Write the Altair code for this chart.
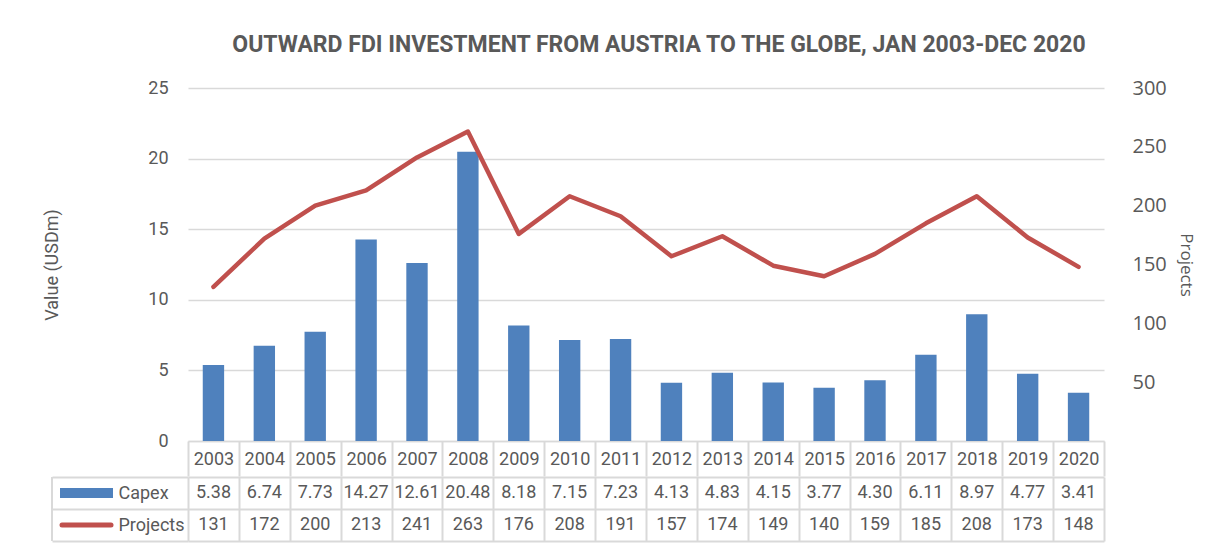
import altair as alt
import pandas as pd

years = [str(y) for y in range(2003, 2021)]
capex = [5.38, 6.74, 7.73, 14.27, 12.61, 20.48, 8.18, 7.15, 7.23, 4.13,
         4.83, 4.15, 3.77, 4.30, 6.11, 8.97, 4.77, 3.41]
projects = [131, 172, 200, 213, 241, 263, 176, 208, 191, 157,
            174, 149, 140, 159, 185, 208, 173, 148]
row_names = ["Capex", "Projects"]
left_ticks = [0, 5, 10, 15, 20, 25]
right_ticks = [0, 50, 100, 150, 200, 250, 300]
title_text = "OUTWARD FDI INVESTMENT FROM AUSTRIA TO THE GLOBE, JAN 2003-DEC 2020"

BLUE = "#4F81BD"
RED = "#C0504D"
GRID = "#D9D9D9"
TEXT = "#595959"
NARROW = "Roboto"
ROUND = "Open Sans"
W = 916
H = 353
TH = 64

df = pd.DataFrame({"year": years, "capex": capex, "projects": projects})

band = alt.Scale(paddingInner=0, paddingOuter=0)

x_main = alt.X(
    "year:N", sort=years, scale=band,
    axis=alt.Axis(title=None, labelAngle=0, domainColor=GRID, domainWidth=1.5,
                  tickColor=GRID, tickWidth=2, tickSize=35, tickBand="extent",
                  labelPadding=-17, labelBaseline="middle", labelFont=NARROW,
                  labelFontSize=18, labelColor=TEXT, grid=False),
)

bars = alt.Chart(df).mark_bar(color=BLUE, width={"band": 0.42}).encode(
    x=x_main,
    y=alt.Y("capex:Q", scale=alt.Scale(domain=[0, 25], nice=False),
            axis=alt.Axis(title="Value (USDm)", values=left_ticks, grid=True,
                          gridColor=GRID, gridWidth=1.5, domain=False, ticks=False,
                          labelPadding=20, labelFont=NARROW, labelFontSize=18,
                          labelColor=TEXT, titleFont=NARROW, titleFontSize=18,
                          titleFontWeight="normal", titleColor=TEXT,
                          titlePadding=86)),
)

line = alt.Chart(df).mark_line(color=RED, strokeWidth=4.5, strokeCap="round",
                               strokeJoin="round").encode(
    x=alt.X("year:N", sort=years, scale=band),
    y=alt.Y("projects:Q", scale=alt.Scale(domain=[0, 300], nice=False),
            axis=alt.Axis(title="Projects", orient="right", values=right_ticks,
                          labelExpr="datum.value == 0 ? '' : datum.label",
                          grid=False, domain=False, ticks=False, labelPadding=28,
                          labelFont=ROUND, labelFontSize=20, labelColor=TEXT,
                          titleFont=ROUND, titleFontSize=17, titleFontWeight="normal",
                          titleColor=TEXT, titleAngle=90, titlePadding=10)),
)

main = alt.layer(bars, line).resolve_scale(y="independent").properties(
    width=W, height=H,
    title=alt.Title(title_text, font=NARROW, fontSize=23, fontWeight="bold",
                    color=TEXT, anchor="middle", dx=13, offset=21),
)

# table below the chart
trows = []
for yv, c, p in zip(years, capex, projects):
    trows.append({"year": yv, "row": "Capex", "label": f"{c:.2f}"})
    trows.append({"year": yv, "row": "Projects", "label": f"{p}"})
tdf = pd.DataFrame(trows)

y_tab = alt.Y("row:N", sort=row_names, scale=band,
              axis=alt.Axis(title=None, grid=True, gridColor=GRID, gridWidth=2,
                            tickBand="extent", tickSize=136, tickColor=GRID,
                            tickWidth=2, domain=False, labelAlign="left",
                            labelPadding=-66, labelFont=NARROW, labelFontSize=18,
                            labelColor=TEXT))
x_tab = alt.X("year:N", sort=years, scale=band,
              axis=alt.Axis(title=None, labels=False, ticks=False, domain=False,
                            grid=True, gridColor=GRID, gridWidth=2,
                            tickBand="extent"))

cells = alt.Chart(tdf).mark_text(font=NARROW, fontSize=18, color=TEXT).encode(
    x=x_tab, y=y_tab, text="label:N")

sw = pd.DataFrame({"row": row_names})
sw_bar = alt.Chart(sw).transform_filter(alt.datum.row == "Capex").mark_rule(
    color=BLUE, strokeWidth=10, strokeCap="butt").encode(
    x=alt.value(-128), x2=alt.value(-75), y=alt.Y("row:N", sort=row_names, scale=band))
sw_line = alt.Chart(sw).transform_filter(alt.datum.row == "Projects").mark_rule(
    color=RED, strokeWidth=5, strokeCap="round").encode(
    x=alt.value(-126), x2=alt.value(-77), y=alt.Y("row:N", sort=row_names, scale=band))
border = alt.Chart(sw).transform_filter(alt.datum.row == "Capex").mark_rule(
    color=GRID, strokeWidth=2).encode(
    x=alt.value(-136), y=alt.value(0), y2=alt.value(TH))

table = alt.layer(cells, sw_bar, sw_line, border).properties(width=W, height=TH)

chart = alt.vconcat(main, table, spacing=-9).properties(
    padding={"left": 35, "top": 26, "right": 5, "bottom": 5}
).configure_view(strokeWidth=0)

chart.save("out.html", embed_options={"renderer": "svg", "actions": False})
